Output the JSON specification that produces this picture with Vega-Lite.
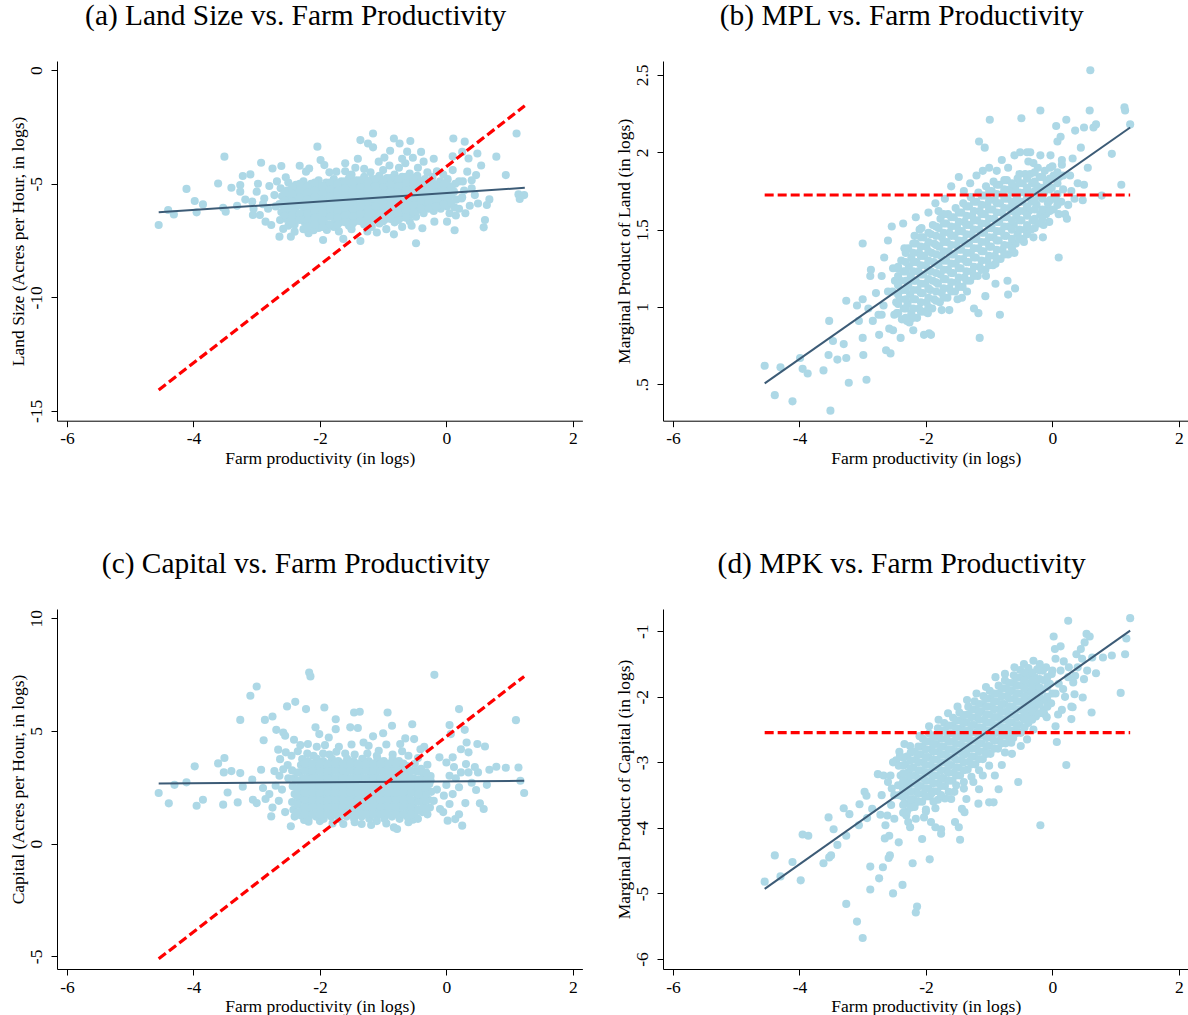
{
"$schema":"https://vega.github.io/schema/vega-lite/v6.json",
"background":"white",
"padding":{"left":9,"top":1,"right":0,"bottom":0},
"config":{
"view":{"stroke":null},
"font":"Liberation Serif",
"axis":{"domainColor":"#000","tickColor":"#000","labelColor":"#000","titleColor":"#000","labelFont":"Liberation Serif","titleFont":"Liberation Serif","labelFontSize":17.5,"titleFontSize":17.5,"titleFontWeight":"normal","grid":false,"tickSize":6,"domainWidth":1,"tickWidth":1},
"axisX":{"labelPadding":3,"titlePadding":2,"labelAngle":0},
"axisY":{"labelAngle":-90,"labelAlign":"center","labelBaseline":"alphabetic","labelPadding":10,"titlePadding":0},
"title":{"font":"Liberation Serif","fontSize":29.4,"fontWeight":"normal","color":"#000","anchor":"middle","frame":"bounds","baseline":"alphabetic","offset":29.5}
},
"datasets":{
"a_pts":[
{"x":-4.55,"y":-6.82},{"x":-4.40,"y":-6.16},{"x":-4.31,"y":-6.35},{"x":-4.11,"y":-5.23},{"x":-3.98,"y":-5.76},{"x":-3.95,"y":-6.26},{"x":-3.85,"y":-5.91},{"x":-3.61,"y":-4.99},{"x":-3.51,"y":-3.81},{"x":-3.53,"y":-6.06},{"x":-3.49,"y":-6.23},{"x":-3.40,"y":-5.18},{"x":-3.31,"y":-5.97},{"x":-3.26,"y":-5.06},{"x":-3.26,"y":-5.35},{"x":-3.22,"y":-4.66},{"x":-3.10,"y":-4.59},{"x":-3.07,"y":-5.79},{"x":-3.06,"y":-6.38},{"x":-3.00,"y":-5.35},{"x":-2.95,"y":-6.38},{"x":-2.93,"y":-4.08},{"x":-2.88,"y":-5.65},{"x":-2.86,"y":-6.67},{"x":-2.77,"y":-6.82},{"x":-2.75,"y":-4.33},{"x":-2.64,"y":-7.33},{"x":-2.61,"y":-4.22},{"x":-2.58,"y":-6.99},{"x":-2.57,"y":-6.30},{"x":-2.54,"y":-4.72},{"x":-2.46,"y":-7.33},{"x":-2.40,"y":-7.11},{"x":-2.32,"y":-4.21},{"x":-2.22,"y":-4.47},{"x":-2.17,"y":-4.33},{"x":-2.18,"y":-7.18},{"x":-2.04,"y":-3.37},{"x":-1.99,"y":-3.96},{"x":-1.93,"y":-4.18},{"x":-1.95,"y":-7.48},{"x":-1.89,"y":-7.04},{"x":-1.74,"y":-4.47},{"x":-1.63,"y":-7.43},{"x":-1.44,"y":-4.30},{"x":-1.36,"y":-3.08},{"x":-1.36,"y":-7.52},{"x":-1.24,"y":-3.23},{"x":-1.16,"y":-2.79},{"x":-1.16,"y":-3.40},{"x":-1.07,"y":-4.03},{"x":-0.89,"y":-3.55},{"x":-0.83,"y":-3.01},{"x":-0.83,"y":-7.23},{"x":-0.74,"y":-3.23},{"x":-0.57,"y":-3.12},{"x":-0.62,"y":-3.59},{"x":-0.48,"y":-7.62},{"x":-0.53,"y":-3.86},{"x":-0.36,"y":-4.03},{"x":-0.38,"y":-6.96},{"x":-0.19,"y":-6.67},{"x":0.01,"y":-6.67},{"x":0.11,"y":-3.01},{"x":0.13,"y":-7.05},{"x":0.29,"y":-3.15},{"x":0.35,"y":-3.89},{"x":0.49,"y":-3.67},{"x":0.47,"y":-4.62},{"x":0.33,"y":-4.47},{"x":0.50,"y":-5.87},{"x":0.37,"y":-5.97},{"x":0.61,"y":-6.60},{"x":0.59,"y":-6.92},{"x":0.64,"y":-5.94},{"x":0.68,"y":-5.69},{"x":0.79,"y":-3.81},{"x":0.94,"y":-4.62},{"x":1.11,"y":-2.79},{"x":1.14,"y":-5.47},{"x":1.16,"y":-5.67},{"x":1.23,"y":-5.50},
{"x":-2.8,"y":-5.1},{"x":-2.72,"y":-5.5},{"x":-2.7,"y":-6.0},{"x":-2.82,"y":-6.1},{"x":-2.68,"y":-4.9},{"x":-2.9,"y":-5.9},{"x":-3.05,"y":-6.1},{"x":-3.18,"y":-5.7},{"x":-2.98,"y":-5.0},
{"x":-1.85,"y":-4.5},{"x":-1.6,"y":-4.45},{"x":-1.5,"y":-4.6},{"x":-1.3,"y":-4.35},{"x":-1.2,"y":-4.5},{"x":-1.0,"y":-4.4},{"x":-0.9,"y":-4.2},{"x":-0.75,"y":-4.3},{"x":-0.65,"y":-4.1},{"x":-0.45,"y":-4.3},{"x":-0.3,"y":-4.5},{"x":-0.15,"y":-4.45},{"x":-0.05,"y":-4.6},
{"x":-2.1,"y":-7.05},{"x":-1.7,"y":-7.1},{"x":-1.5,"y":-7.0},{"x":-1.25,"y":-7.1},{"x":-1.1,"y":-7.15},{"x":-0.95,"y":-7.0},{"x":-0.7,"y":-6.9},{"x":-0.55,"y":-6.85},
{"x":0.1,"y":-4.4},{"x":0.2,"y":-4.9},{"x":0.25,"y":-5.6},{"x":0.2,"y":-6.1},{"x":0.4,"y":-5.2},{"x":0.45,"y":-5.5},{"x":0.15,"y":-6.4},{"x":0.05,"y":-6.3},{"x":0.55,"y":-4.2},{"x":0.4,"y":-4.85},{"x":0.3,"y":-6.3},{"x":0.1,"y":-3.8},{"x":0.25,"y":-3.6},{"x":-0.2,"y":-3.9},{"x":-0.4,"y":-3.6},{"x":-0.7,"y":-3.9},{"x":-0.98,"y":-3.85},{"x":-1.4,"y":-3.9},{"x":-1.6,"y":-4.1},
{"x":-2.62,"y":-5.2},{"x":-2.6,"y":-5.55},{"x":-2.64,"y":-5.9},{"x":-2.61,"y":-6.25},{"x":-2.63,"y":-6.6},
{"x":-2.5,"y":-4.95},{"x":-2.52,"y":-5.3},{"x":-2.48,"y":-5.6},{"x":-2.51,"y":-5.95},{"x":-2.49,"y":-6.25},{"x":-2.53,"y":-6.55},{"x":-2.5,"y":-6.85},
{"x":-2.38,"y":-5.05},{"x":-2.36,"y":-5.35},{"x":-2.4,"y":-5.65},{"x":-2.37,"y":-5.9},{"x":-2.39,"y":-6.2},{"x":-2.36,"y":-6.5},{"x":-2.4,"y":-6.8},
{"x":-2.26,"y":-4.9},{"x":-2.28,"y":-5.2},{"x":-2.24,"y":-5.5},{"x":-2.27,"y":-5.8},{"x":-2.25,"y":-6.1},{"x":-2.28,"y":-6.4},{"x":-2.24,"y":-6.7},{"x":-2.26,"y":-7.0},
{"x":-2.14,"y":-5.0},{"x":-2.12,"y":-5.3},{"x":-2.16,"y":-5.6},{"x":-2.13,"y":-5.9},{"x":-2.15,"y":-6.2},{"x":-2.12,"y":-6.5},{"x":-2.16,"y":-6.8},
{"x":-2.02,"y":-4.85},{"x":-2.04,"y":-5.15},{"x":-2.0,"y":-5.45},{"x":-2.03,"y":-5.75},{"x":-2.01,"y":-6.05},{"x":-2.04,"y":-6.35},{"x":-2.0,"y":-6.65},{"x":-2.02,"y":-6.95},
{"x":-1.9,"y":-4.95},{"x":-1.88,"y":-5.25},{"x":-1.92,"y":-5.55},{"x":-1.89,"y":-5.85},{"x":-1.91,"y":-6.15},{"x":-1.88,"y":-6.45},{"x":-1.92,"y":-6.75},
{"x":-1.78,"y":-4.8},{"x":-1.8,"y":-5.1},{"x":-1.76,"y":-5.4},{"x":-1.79,"y":-5.7},{"x":-1.77,"y":-6.0},{"x":-1.8,"y":-6.3},{"x":-1.76,"y":-6.6},{"x":-1.78,"y":-6.9},
{"x":-1.66,"y":-4.9},{"x":-1.64,"y":-5.2},{"x":-1.68,"y":-5.5},{"x":-1.65,"y":-5.8},{"x":-1.67,"y":-6.1},{"x":-1.64,"y":-6.4},{"x":-1.68,"y":-6.7},
{"x":-1.54,"y":-4.75},{"x":-1.56,"y":-5.05},{"x":-1.52,"y":-5.35},{"x":-1.55,"y":-5.65},{"x":-1.53,"y":-5.95},{"x":-1.56,"y":-6.25},{"x":-1.52,"y":-6.55},{"x":-1.54,"y":-6.85},
{"x":-1.42,"y":-4.85},{"x":-1.4,"y":-5.15},{"x":-1.44,"y":-5.45},{"x":-1.41,"y":-5.75},{"x":-1.43,"y":-6.05},{"x":-1.4,"y":-6.35},{"x":-1.44,"y":-6.65},
{"x":-1.3,"y":-4.7},{"x":-1.32,"y":-5.0},{"x":-1.28,"y":-5.3},{"x":-1.31,"y":-5.6},{"x":-1.29,"y":-5.9},{"x":-1.32,"y":-6.2},{"x":-1.28,"y":-6.5},{"x":-1.3,"y":-6.8},
{"x":-1.18,"y":-4.8},{"x":-1.16,"y":-5.1},{"x":-1.2,"y":-5.4},{"x":-1.17,"y":-5.7},{"x":-1.19,"y":-6.0},{"x":-1.16,"y":-6.3},{"x":-1.2,"y":-6.6},{"x":-1.18,"y":-6.9},
{"x":-1.06,"y":-4.65},{"x":-1.08,"y":-4.95},{"x":-1.04,"y":-5.25},{"x":-1.07,"y":-5.55},{"x":-1.05,"y":-5.85},{"x":-1.08,"y":-6.15},{"x":-1.04,"y":-6.45},{"x":-1.06,"y":-6.75},
{"x":-0.94,"y":-4.75},{"x":-0.92,"y":-5.05},{"x":-0.96,"y":-5.35},{"x":-0.93,"y":-5.65},{"x":-0.95,"y":-5.95},{"x":-0.92,"y":-6.25},{"x":-0.96,"y":-6.55},
{"x":-0.82,"y":-4.6},{"x":-0.84,"y":-4.9},{"x":-0.8,"y":-5.2},{"x":-0.83,"y":-5.5},{"x":-0.81,"y":-5.8},{"x":-0.84,"y":-6.1},{"x":-0.8,"y":-6.4},{"x":-0.82,"y":-6.7},
{"x":-0.7,"y":-4.7},{"x":-0.68,"y":-5.0},{"x":-0.72,"y":-5.3},{"x":-0.69,"y":-5.6},{"x":-0.71,"y":-5.9},{"x":-0.68,"y":-6.2},{"x":-0.72,"y":-6.5},
{"x":-0.58,"y":-4.55},{"x":-0.6,"y":-4.85},{"x":-0.56,"y":-5.15},{"x":-0.59,"y":-5.45},{"x":-0.57,"y":-5.75},{"x":-0.6,"y":-6.05},{"x":-0.56,"y":-6.35},{"x":-0.58,"y":-6.65},
{"x":-0.46,"y":-4.65},{"x":-0.44,"y":-4.95},{"x":-0.48,"y":-5.25},{"x":-0.45,"y":-5.55},{"x":-0.47,"y":-5.85},{"x":-0.44,"y":-6.15},{"x":-0.48,"y":-6.45},
{"x":-0.34,"y":-4.8},{"x":-0.36,"y":-5.1},{"x":-0.32,"y":-5.4},{"x":-0.35,"y":-5.7},{"x":-0.33,"y":-6.0},{"x":-0.36,"y":-6.3},
{"x":-0.22,"y":-4.7},{"x":-0.2,"y":-5.0},{"x":-0.24,"y":-5.3},{"x":-0.21,"y":-5.6},{"x":-0.23,"y":-5.9},{"x":-0.2,"y":-6.2},
{"x":-0.1,"y":-4.9},{"x":-0.12,"y":-5.2},{"x":-0.08,"y":-5.5},{"x":-0.11,"y":-5.8},{"x":-0.09,"y":-6.1},
{"x":0.02,"y":-4.8},{"x":0.04,"y":-5.1},{"x":0.0,"y":-5.4},{"x":0.03,"y":-5.7},{"x":0.01,"y":-6.0},
{"x":0.14,"y":-5.0},{"x":0.12,"y":-5.35},{"x":0.16,"y":-5.7},{"x":0.13,"y":-6.05},
{"x":0.26,"y":-4.9},{"x":0.28,"y":-5.3},{"x":0.24,"y":-5.65},
{"x":-2.56,"y":-5.4},{"x":-2.56,"y":-5.75},{"x":-2.56,"y":-6.1},{"x":-2.56,"y":-6.4},
{"x":-2.44,"y":-5.15},{"x":-2.44,"y":-5.45},{"x":-2.44,"y":-5.8},{"x":-2.44,"y":-6.1},{"x":-2.44,"y":-6.4},{"x":-2.44,"y":-6.7},
{"x":-2.32,"y":-5.0},{"x":-2.32,"y":-5.3},{"x":-2.32,"y":-5.6},{"x":-2.32,"y":-5.95},{"x":-2.32,"y":-6.3},{"x":-2.32,"y":-6.6},
{"x":-2.2,"y":-5.1},{"x":-2.2,"y":-5.4},{"x":-2.2,"y":-5.7},{"x":-2.2,"y":-6.0},{"x":-2.2,"y":-6.3},{"x":-2.2,"y":-6.6},{"x":-2.2,"y":-6.9},
{"x":-2.08,"y":-4.95},{"x":-2.08,"y":-5.3},{"x":-2.08,"y":-5.6},{"x":-2.08,"y":-5.9},{"x":-2.08,"y":-6.2},{"x":-2.08,"y":-6.5},{"x":-2.08,"y":-6.8},
{"x":-1.96,"y":-5.1},{"x":-1.96,"y":-5.4},{"x":-1.96,"y":-5.7},{"x":-1.96,"y":-6.0},{"x":-1.96,"y":-6.3},{"x":-1.96,"y":-6.6},{"x":-1.96,"y":-6.9},
{"x":-1.84,"y":-4.95},{"x":-1.84,"y":-5.25},{"x":-1.84,"y":-5.55},{"x":-1.84,"y":-5.85},{"x":-1.84,"y":-6.15},{"x":-1.84,"y":-6.45},{"x":-1.84,"y":-6.8},
{"x":-1.72,"y":-5.0},{"x":-1.72,"y":-5.3},{"x":-1.72,"y":-5.6},{"x":-1.72,"y":-5.9},{"x":-1.72,"y":-6.2},{"x":-1.72,"y":-6.5},{"x":-1.72,"y":-6.8},
{"x":-1.6,"y":-4.9},{"x":-1.6,"y":-5.2},{"x":-1.6,"y":-5.5},{"x":-1.6,"y":-5.8},{"x":-1.6,"y":-6.1},{"x":-1.6,"y":-6.4},{"x":-1.6,"y":-6.7},
{"x":-1.48,"y":-4.95},{"x":-1.48,"y":-5.25},{"x":-1.48,"y":-5.55},{"x":-1.48,"y":-5.85},{"x":-1.48,"y":-6.15},{"x":-1.48,"y":-6.45},{"x":-1.48,"y":-6.75},
{"x":-1.36,"y":-4.85},{"x":-1.36,"y":-5.15},{"x":-1.36,"y":-5.45},{"x":-1.36,"y":-5.75},{"x":-1.36,"y":-6.05},{"x":-1.36,"y":-6.35},{"x":-1.36,"y":-6.65},
{"x":-1.24,"y":-4.9},{"x":-1.24,"y":-5.2},{"x":-1.24,"y":-5.5},{"x":-1.24,"y":-5.8},{"x":-1.24,"y":-6.1},{"x":-1.24,"y":-6.4},{"x":-1.24,"y":-6.7},
{"x":-1.12,"y":-4.8},{"x":-1.12,"y":-5.1},{"x":-1.12,"y":-5.4},{"x":-1.12,"y":-5.7},{"x":-1.12,"y":-6.0},{"x":-1.12,"y":-6.3},{"x":-1.12,"y":-6.6},
{"x":-1.0,"y":-4.85},{"x":-1.0,"y":-5.15},{"x":-1.0,"y":-5.45},{"x":-1.0,"y":-5.75},{"x":-1.0,"y":-6.05},{"x":-1.0,"y":-6.35},{"x":-1.0,"y":-6.65},
{"x":-0.88,"y":-4.75},{"x":-0.88,"y":-5.05},{"x":-0.88,"y":-5.35},{"x":-0.88,"y":-5.65},{"x":-0.88,"y":-5.95},{"x":-0.88,"y":-6.25},{"x":-0.88,"y":-6.55},
{"x":-0.76,"y":-4.8},{"x":-0.76,"y":-5.1},{"x":-0.76,"y":-5.4},{"x":-0.76,"y":-5.7},{"x":-0.76,"y":-6.0},{"x":-0.76,"y":-6.3},{"x":-0.76,"y":-6.6},
{"x":-0.64,"y":-4.7},{"x":-0.64,"y":-5.0},{"x":-0.64,"y":-5.3},{"x":-0.64,"y":-5.6},{"x":-0.64,"y":-5.9},{"x":-0.64,"y":-6.2},{"x":-0.64,"y":-6.5},
{"x":-0.52,"y":-4.75},{"x":-0.52,"y":-5.05},{"x":-0.52,"y":-5.35},{"x":-0.52,"y":-5.65},{"x":-0.52,"y":-5.95},{"x":-0.52,"y":-6.25},
{"x":-0.4,"y":-4.9},{"x":-0.4,"y":-5.2},{"x":-0.4,"y":-5.5},{"x":-0.4,"y":-5.8},{"x":-0.4,"y":-6.1},
{"x":-0.28,"y":-4.95},{"x":-0.28,"y":-5.25},{"x":-0.28,"y":-5.55},{"x":-0.28,"y":-5.85},{"x":-0.28,"y":-6.1},
{"x":-0.16,"y":-5.1},{"x":-0.16,"y":-5.4},{"x":-0.16,"y":-5.7},{"x":-0.16,"y":-6.0},
{"x":-0.04,"y":-5.0},{"x":-0.04,"y":-5.3},{"x":-0.04,"y":-5.6},{"x":-0.04,"y":-5.9},
{"x":0.08,"y":-5.2},{"x":0.08,"y":-5.5},{"x":0.08,"y":-5.85}
],
"b_pts":[
{"x":-4.55,"y":0.62},{"x":-4.39,"y":0.43},{"x":-4.30,"y":0.61},{"x":-4.11,"y":0.39},{"x":-3.99,"y":0.67},{"x":-3.95,"y":0.60},{"x":-3.87,"y":0.57},{"x":-3.62,"y":0.59},{"x":-3.54,"y":0.69},{"x":-3.53,"y":0.91},{"x":-3.51,"y":0.33},{"x":-3.47,"y":0.78},{"x":-3.40,"y":0.66},{"x":-3.30,"y":0.76},{"x":-3.26,"y":0.67},{"x":-3.26,"y":1.04},{"x":-3.22,"y":0.51},{"x":-3.09,"y":1.01},{"x":-3.06,"y":0.91},{"x":-3.00,"y":1.41},{"x":-3.00,"y":1.05},{"x":-3.00,"y":0.80},{"x":-2.99,"y":0.69},{"x":-2.94,"y":0.53},{"x":-2.91,"y":0.99},{"x":-2.87,"y":1.24},{"x":-2.88,"y":1.20},{"x":-2.84,"y":0.91},{"x":-2.79,"y":1.09},{"x":-2.75,"y":0.95},{"x":-2.74,"y":0.82},{"x":-2.70,"y":1.20},{"x":-2.67,"y":1.01},{"x":-2.66,"y":1.32},{"x":-2.63,"y":0.72},{"x":-2.60,"y":1.43},{"x":-2.56,"y":0.70},{"x":-2.54,"y":1.52},{"x":-2.58,"y":0.86},{"x":-2.52,"y":0.85},{"x":-2.46,"y":0.96},{"x":-2.36,"y":1.54},{"x":-2.34,"y":1.38},{"x":-2.30,"y":0.91},{"x":-2.24,"y":0.93},{"x":-2.16,"y":1.58},{"x":-2.18,"y":1.46},{"x":-2.07,"y":1.51},{"x":-2.03,"y":0.82},{"x":-1.95,"y":0.83},{"x":-1.92,"y":0.82},{"x":-1.97,"y":0.96},{"x":-1.96,"y":1.61},{"x":-1.85,"y":1.67},{"x":-1.63,"y":0.98},{"x":-1.60,"y":1.78},{"x":-1.48,"y":1.84},{"x":-1.43,"y":1.06},{"x":-1.16,"y":2.07},{"x":-1.15,"y":0.80},{"x":-1.17,"y":0.96},{"x":-1.24,"y":0.99},{"x":-1.10,"y":1.88},{"x":-1.06,"y":1.07},{"x":-1.07,"y":2.03},{"x":-0.99,"y":2.21},{"x":-0.88,"y":1.88},{"x":-0.83,"y":0.95},{"x":-0.90,"y":1.15},{"x":-0.71,"y":1.17},{"x":-0.70,"y":1.08},{"x":-0.59,"y":1.12},{"x":-0.49,"y":2.22},{"x":-0.51,"y":2.00},{"x":-0.35,"y":2.00},{"x":-0.38,"y":1.94},{"x":-0.31,"y":1.56},{"x":-0.19,"y":2.27},{"x":-0.19,"y":1.98},{"x":-0.14,"y":1.53},{"x":-0.03,"y":1.98},{"x":0.06,"y":2.17},{"x":0.13,"y":2.10},{"x":0.08,"y":2.07},{"x":0.10,"y":1.32},{"x":0.22,"y":2.21},{"x":0.20,"y":1.60},{"x":0.23,"y":1.57},{"x":0.36,"y":2.14},{"x":0.32,"y":1.96},{"x":0.45,"y":2.03},{"x":0.50,"y":2.16},{"x":0.60,"y":2.53},{"x":0.59,"y":2.27},{"x":0.56,"y":1.90},{"x":0.65,"y":2.16},{"x":0.69,"y":2.18},{"x":0.50,"y":1.79},{"x":0.48,"y":1.69},{"x":0.94,"y":1.99},{"x":0.78,"y":1.72},{"x":1.09,"y":1.79},{"x":1.14,"y":2.29},{"x":1.15,"y":2.27},{"x":1.23,"y":2.18},{"x":0.35,"y":1.70},{"x":0.17,"y":1.85},{"x":0.02,"y":1.85},{"x":-0.04,"y":1.69},{"x":-0.07,"y":1.64},
{"x":-2.45,"y":1.25},{"x":-2.6,"y":1.1},{"x":-2.7,"y":0.95},{"x":-2.4,"y":0.8},{"x":-2.2,"y":0.85},{"x":-2.1,"y":1.5},{"x":-1.8,"y":1.62},{"x":-1.7,"y":1.7},{"x":-1.4,"y":1.75},{"x":-1.3,"y":1.8},{"x":-1.2,"y":1.85},{"x":-1.0,"y":1.9},{"x":-0.8,"y":1.95},{"x":-0.7,"y":1.9},{"x":-0.6,"y":1.98},{"x":-0.4,"y":2.0},{"x":-0.3,"y":1.93},{"x":-1.75,"y":0.98},{"x":-1.5,"y":1.05},{"x":-1.35,"y":1.1},{"x":-1.05,"y":1.2},{"x":-0.9,"y":1.28},{"x":-0.6,"y":1.35},{"x":-0.45,"y":1.42},{"x":-0.3,"y":1.45},{"x":0.1,"y":1.6},{"x":0.25,"y":1.66},{"x":0.3,"y":1.75},{"x":0.15,"y":1.95},{"x":0.28,"y":1.85},{"x":0.4,"y":1.8},{"x":-0.15,"y":1.45},{"x":-0.05,"y":1.55},{"x":0.05,"y":1.7},
{"x":-2.5,"y":0.95},{"x":-2.47,"y":1.03},{"x":-2.53,"y":1.1},{"x":-2.49,"y":1.17},{"x":-2.52,"y":1.25},
{"x":-2.38,"y":0.92},{"x":-2.35,"y":0.99},{"x":-2.41,"y":1.05},{"x":-2.37,"y":1.11},{"x":-2.4,"y":1.17},{"x":-2.36,"y":1.23},{"x":-2.39,"y":1.3},
{"x":-2.26,"y":0.9},{"x":-2.23,"y":0.96},{"x":-2.29,"y":1.02},{"x":-2.25,"y":1.08},{"x":-2.28,"y":1.14},{"x":-2.24,"y":1.2},{"x":-2.27,"y":1.26},{"x":-2.23,"y":1.32},{"x":-2.28,"y":1.38},
{"x":-2.14,"y":0.93},{"x":-2.11,"y":0.99},{"x":-2.17,"y":1.05},{"x":-2.13,"y":1.11},{"x":-2.16,"y":1.17},{"x":-2.12,"y":1.23},{"x":-2.15,"y":1.29},{"x":-2.11,"y":1.35},{"x":-2.16,"y":1.41},
{"x":-2.02,"y":0.97},{"x":-1.99,"y":1.03},{"x":-2.05,"y":1.09},{"x":-2.01,"y":1.15},{"x":-2.04,"y":1.21},{"x":-2.0,"y":1.27},{"x":-2.03,"y":1.33},{"x":-1.99,"y":1.39},{"x":-2.04,"y":1.45},
{"x":-1.9,"y":0.99},{"x":-1.87,"y":1.05},{"x":-1.93,"y":1.11},{"x":-1.89,"y":1.17},{"x":-1.92,"y":1.23},{"x":-1.88,"y":1.29},{"x":-1.91,"y":1.35},{"x":-1.87,"y":1.41},{"x":-1.92,"y":1.47},{"x":-1.89,"y":1.53},
{"x":-1.78,"y":1.03},{"x":-1.75,"y":1.09},{"x":-1.81,"y":1.15},{"x":-1.77,"y":1.21},{"x":-1.8,"y":1.27},{"x":-1.76,"y":1.33},{"x":-1.79,"y":1.39},{"x":-1.75,"y":1.45},{"x":-1.8,"y":1.51},{"x":-1.77,"y":1.57},
{"x":-1.66,"y":1.06},{"x":-1.63,"y":1.12},{"x":-1.69,"y":1.18},{"x":-1.65,"y":1.24},{"x":-1.68,"y":1.3},{"x":-1.64,"y":1.36},{"x":-1.67,"y":1.42},{"x":-1.63,"y":1.48},{"x":-1.68,"y":1.54},{"x":-1.65,"y":1.6},
{"x":-1.54,"y":1.1},{"x":-1.51,"y":1.16},{"x":-1.57,"y":1.22},{"x":-1.53,"y":1.28},{"x":-1.56,"y":1.34},{"x":-1.52,"y":1.4},{"x":-1.55,"y":1.46},{"x":-1.51,"y":1.52},{"x":-1.56,"y":1.58},{"x":-1.53,"y":1.64},
{"x":-1.42,"y":1.13},{"x":-1.39,"y":1.19},{"x":-1.45,"y":1.25},{"x":-1.41,"y":1.31},{"x":-1.44,"y":1.37},{"x":-1.4,"y":1.43},{"x":-1.43,"y":1.49},{"x":-1.39,"y":1.55},{"x":-1.44,"y":1.61},{"x":-1.41,"y":1.67},
{"x":-1.3,"y":1.17},{"x":-1.27,"y":1.23},{"x":-1.33,"y":1.29},{"x":-1.29,"y":1.35},{"x":-1.32,"y":1.41},{"x":-1.28,"y":1.47},{"x":-1.31,"y":1.53},{"x":-1.27,"y":1.59},{"x":-1.32,"y":1.65},{"x":-1.29,"y":1.71},
{"x":-1.18,"y":1.2},{"x":-1.15,"y":1.26},{"x":-1.21,"y":1.32},{"x":-1.17,"y":1.38},{"x":-1.2,"y":1.44},{"x":-1.16,"y":1.5},{"x":-1.19,"y":1.56},{"x":-1.15,"y":1.62},{"x":-1.2,"y":1.68},{"x":-1.17,"y":1.74},
{"x":-1.06,"y":1.24},{"x":-1.03,"y":1.3},{"x":-1.09,"y":1.36},{"x":-1.05,"y":1.42},{"x":-1.08,"y":1.48},{"x":-1.04,"y":1.54},{"x":-1.07,"y":1.6},{"x":-1.03,"y":1.66},{"x":-1.08,"y":1.72},{"x":-1.05,"y":1.78},
{"x":-0.94,"y":1.27},{"x":-0.91,"y":1.33},{"x":-0.97,"y":1.39},{"x":-0.93,"y":1.45},{"x":-0.96,"y":1.51},{"x":-0.92,"y":1.57},{"x":-0.95,"y":1.63},{"x":-0.91,"y":1.69},{"x":-0.96,"y":1.75},{"x":-0.93,"y":1.81},
{"x":-0.82,"y":1.31},{"x":-0.79,"y":1.37},{"x":-0.85,"y":1.43},{"x":-0.81,"y":1.49},{"x":-0.84,"y":1.55},{"x":-0.8,"y":1.61},{"x":-0.83,"y":1.67},{"x":-0.79,"y":1.73},{"x":-0.84,"y":1.79},
{"x":-0.7,"y":1.34},{"x":-0.67,"y":1.4},{"x":-0.73,"y":1.46},{"x":-0.69,"y":1.52},{"x":-0.72,"y":1.58},{"x":-0.68,"y":1.64},{"x":-0.71,"y":1.7},{"x":-0.67,"y":1.76},{"x":-0.72,"y":1.82},
{"x":-0.58,"y":1.41},{"x":-0.55,"y":1.47},{"x":-0.61,"y":1.53},{"x":-0.57,"y":1.59},{"x":-0.6,"y":1.65},{"x":-0.56,"y":1.71},{"x":-0.59,"y":1.77},{"x":-0.55,"y":1.83},
{"x":-0.46,"y":1.44},{"x":-0.43,"y":1.5},{"x":-0.49,"y":1.56},{"x":-0.45,"y":1.62},{"x":-0.48,"y":1.68},{"x":-0.44,"y":1.74},{"x":-0.47,"y":1.8},{"x":-0.43,"y":1.86},
{"x":-0.34,"y":1.5},{"x":-0.31,"y":1.56},{"x":-0.37,"y":1.62},{"x":-0.33,"y":1.68},{"x":-0.36,"y":1.74},{"x":-0.32,"y":1.8},{"x":-0.35,"y":1.86},
{"x":-0.22,"y":1.54},{"x":-0.19,"y":1.6},{"x":-0.25,"y":1.66},{"x":-0.21,"y":1.72},{"x":-0.24,"y":1.78},{"x":-0.2,"y":1.84},{"x":-0.23,"y":1.9},
{"x":-0.1,"y":1.6},{"x":-0.07,"y":1.67},{"x":-0.13,"y":1.74},{"x":-0.09,"y":1.81},{"x":-0.12,"y":1.88},
{"x":0.02,"y":1.63},{"x":0.05,"y":1.7},{"x":-0.01,"y":1.77},{"x":0.03,"y":1.84},{"x":0.0,"y":1.91},
{"x":0.14,"y":1.68},{"x":0.17,"y":1.76},{"x":0.11,"y":1.84},{"x":0.15,"y":1.92},
{"x":-2.44,"y":0.96},{"x":-2.44,"y":1.02},{"x":-2.44,"y":1.08},{"x":-2.44,"y":1.14},{"x":-2.44,"y":1.2},{"x":-2.44,"y":1.26},
{"x":-2.32,"y":0.93},{"x":-2.32,"y":0.99},{"x":-2.32,"y":1.05},{"x":-2.32,"y":1.11},{"x":-2.32,"y":1.17},{"x":-2.32,"y":1.23},{"x":-2.32,"y":1.29},{"x":-2.32,"y":1.35},
{"x":-2.2,"y":0.93},{"x":-2.2,"y":0.99},{"x":-2.2,"y":1.05},{"x":-2.2,"y":1.11},{"x":-2.2,"y":1.17},{"x":-2.2,"y":1.23},{"x":-2.2,"y":1.29},{"x":-2.2,"y":1.35},{"x":-2.2,"y":1.41},
{"x":-2.08,"y":0.97},{"x":-2.08,"y":1.03},{"x":-2.08,"y":1.09},{"x":-2.08,"y":1.15},{"x":-2.08,"y":1.21},{"x":-2.08,"y":1.27},{"x":-2.08,"y":1.33},{"x":-2.08,"y":1.39},{"x":-2.08,"y":1.45},
{"x":-1.96,"y":1.0},{"x":-1.96,"y":1.06},{"x":-1.96,"y":1.12},{"x":-1.96,"y":1.18},{"x":-1.96,"y":1.24},{"x":-1.96,"y":1.3},{"x":-1.96,"y":1.36},{"x":-1.96,"y":1.42},{"x":-1.96,"y":1.48},
{"x":-1.84,"y":1.04},{"x":-1.84,"y":1.1},{"x":-1.84,"y":1.16},{"x":-1.84,"y":1.22},{"x":-1.84,"y":1.28},{"x":-1.84,"y":1.34},{"x":-1.84,"y":1.4},{"x":-1.84,"y":1.46},{"x":-1.84,"y":1.52},
{"x":-1.72,"y":1.06},{"x":-1.72,"y":1.12},{"x":-1.72,"y":1.18},{"x":-1.72,"y":1.24},{"x":-1.72,"y":1.3},{"x":-1.72,"y":1.36},{"x":-1.72,"y":1.42},{"x":-1.72,"y":1.48},{"x":-1.72,"y":1.54},{"x":-1.72,"y":1.6},
{"x":-1.6,"y":1.1},{"x":-1.6,"y":1.16},{"x":-1.6,"y":1.22},{"x":-1.6,"y":1.28},{"x":-1.6,"y":1.34},{"x":-1.6,"y":1.4},{"x":-1.6,"y":1.46},{"x":-1.6,"y":1.52},{"x":-1.6,"y":1.58},
{"x":-1.48,"y":1.13},{"x":-1.48,"y":1.19},{"x":-1.48,"y":1.25},{"x":-1.48,"y":1.31},{"x":-1.48,"y":1.37},{"x":-1.48,"y":1.43},{"x":-1.48,"y":1.49},{"x":-1.48,"y":1.55},{"x":-1.48,"y":1.61},
{"x":-1.36,"y":1.17},{"x":-1.36,"y":1.23},{"x":-1.36,"y":1.29},{"x":-1.36,"y":1.35},{"x":-1.36,"y":1.41},{"x":-1.36,"y":1.47},{"x":-1.36,"y":1.53},{"x":-1.36,"y":1.59},{"x":-1.36,"y":1.65},
{"x":-1.24,"y":1.2},{"x":-1.24,"y":1.26},{"x":-1.24,"y":1.32},{"x":-1.24,"y":1.38},{"x":-1.24,"y":1.44},{"x":-1.24,"y":1.5},{"x":-1.24,"y":1.56},{"x":-1.24,"y":1.62},{"x":-1.24,"y":1.68},
{"x":-1.12,"y":1.24},{"x":-1.12,"y":1.3},{"x":-1.12,"y":1.36},{"x":-1.12,"y":1.42},{"x":-1.12,"y":1.48},{"x":-1.12,"y":1.54},{"x":-1.12,"y":1.6},{"x":-1.12,"y":1.66},{"x":-1.12,"y":1.72},
{"x":-1.0,"y":1.27},{"x":-1.0,"y":1.33},{"x":-1.0,"y":1.39},{"x":-1.0,"y":1.45},{"x":-1.0,"y":1.51},{"x":-1.0,"y":1.57},{"x":-1.0,"y":1.63},{"x":-1.0,"y":1.69},{"x":-1.0,"y":1.75},
{"x":-0.88,"y":1.31},{"x":-0.88,"y":1.37},{"x":-0.88,"y":1.43},{"x":-0.88,"y":1.49},{"x":-0.88,"y":1.55},{"x":-0.88,"y":1.61},{"x":-0.88,"y":1.67},{"x":-0.88,"y":1.73},{"x":-0.88,"y":1.79},
{"x":-0.76,"y":1.34},{"x":-0.76,"y":1.4},{"x":-0.76,"y":1.46},{"x":-0.76,"y":1.52},{"x":-0.76,"y":1.58},{"x":-0.76,"y":1.64},{"x":-0.76,"y":1.7},{"x":-0.76,"y":1.76},{"x":-0.76,"y":1.82},
{"x":-0.64,"y":1.38},{"x":-0.64,"y":1.44},{"x":-0.64,"y":1.5},{"x":-0.64,"y":1.56},{"x":-0.64,"y":1.62},{"x":-0.64,"y":1.68},{"x":-0.64,"y":1.74},{"x":-0.64,"y":1.8},
{"x":-0.52,"y":1.44},{"x":-0.52,"y":1.5},{"x":-0.52,"y":1.56},{"x":-0.52,"y":1.62},{"x":-0.52,"y":1.68},{"x":-0.52,"y":1.74},{"x":-0.52,"y":1.8},{"x":-0.52,"y":1.86},
{"x":-0.4,"y":1.47},{"x":-0.4,"y":1.53},{"x":-0.4,"y":1.59},{"x":-0.4,"y":1.65},{"x":-0.4,"y":1.71},{"x":-0.4,"y":1.77},{"x":-0.4,"y":1.83},
{"x":-0.28,"y":1.51},{"x":-0.28,"y":1.57},{"x":-0.28,"y":1.63},{"x":-0.28,"y":1.69},{"x":-0.28,"y":1.75},{"x":-0.28,"y":1.81},{"x":-0.28,"y":1.87},
{"x":-0.16,"y":1.57},{"x":-0.16,"y":1.63},{"x":-0.16,"y":1.7},{"x":-0.16,"y":1.77},{"x":-0.16,"y":1.84},
{"x":-0.04,"y":1.62},{"x":-0.04,"y":1.69},{"x":-0.04,"y":1.76},{"x":-0.04,"y":1.83},{"x":-0.04,"y":1.9},
{"x":0.08,"y":1.66},{"x":0.08,"y":1.73},{"x":0.08,"y":1.8},{"x":0.08,"y":1.87}
],
"c_pts":[
{"x":-4.55,"y":2.25},{"x":-4.39,"y":1.79},{"x":-4.30,"y":2.61},{"x":-4.11,"y":2.72},{"x":-3.98,"y":3.43},{"x":-3.95,"y":1.68},{"x":-3.85,"y":1.95},{"x":-3.61,"y":3.56},{"x":-3.53,"y":1.73},{"x":-3.52,"y":3.16},{"x":-3.51,"y":3.80},{"x":-3.46,"y":2.27},{"x":-3.40,"y":3.22},{"x":-3.30,"y":1.83},{"x":-3.26,"y":3.13},{"x":-3.26,"y":5.49},{"x":-3.22,"y":2.53},{"x":-3.10,"y":6.56},{"x":-3.07,"y":2.84},{"x":-3.06,"y":1.95},{"x":-3.00,"y":6.97},{"x":-3.00,"y":1.80},{"x":-2.93,"y":3.28},{"x":-2.90,"y":2.47},{"x":-2.89,"y":4.59},{"x":-2.87,"y":5.49},{"x":-2.86,"y":1.98},{"x":-2.77,"y":1.21},{"x":-2.75,"y":5.64},{"x":-2.72,"y":3.22},{"x":-2.70,"y":2.57},{"x":-2.69,"y":5.05},{"x":-2.66,"y":4.17},{"x":-2.64,"y":3.01},{"x":-2.63,"y":3.75},{"x":-2.58,"y":4.93},{"x":-2.55,"y":4.79},{"x":-2.54,"y":4.05},{"x":-2.52,"y":6.09},{"x":-2.51,"y":3.49},{"x":-2.46,"y":0.77},{"x":-2.41,"y":4.61},{"x":-2.39,"y":6.29},{"x":-2.31,"y":4.37},{"x":-2.28,"y":3.75},{"x":-2.22,"y":5.97},{"x":-2.19,"y":4.42},{"x":-2.17,"y":7.59},{"x":-2.15,"y":7.42},{"x":-2.18,"y":0.97},{"x":-2.07,"y":5.16},{"x":-2.01,"y":4.86},{"x":-1.93,"y":6.04},{"x":-1.92,"y":4.37},{"x":-1.86,"y":4.71},{"x":-1.75,"y":5.52},{"x":-1.75,"y":5.08},{"x":-1.74,"y":4.08},{"x":-1.63,"y":0.87},{"x":-1.52,"y":5.16},{"x":-1.46,"y":5.82},{"x":-1.37,"y":5.85},{"x":-1.40,"y":5.13},{"x":-1.34,"y":0.87},{"x":-1.31,"y":4.49},{"x":-1.23,"y":4.34},{"x":-1.19,"y":0.83},{"x":-1.16,"y":4.76},{"x":-1.07,"y":4.12},{"x":-1.00,"y":4.90},{"x":-0.93,"y":5.82},{"x":-0.86,"y":5.23},{"x":-0.83,"y":0.72},{"x":-0.78,"y":0.65},{"x":-0.73,"y":4.42},{"x":-0.65,"y":4.67},{"x":-0.54,"y":5.30},{"x":-0.53,"y":1.06},{"x":-0.51,"y":4.64},{"x":-0.41,"y":4.19},{"x":-0.19,"y":7.49},{"x":-0.11,"y":3.83},{"x":0.02,"y":1.02},{"x":0.05,"y":5.26},{"x":0.07,"y":4.86},{"x":0.05,"y":1.76},{"x":0.10,"y":3.83},{"x":0.14,"y":1.09},{"x":0.20,"y":5.97},{"x":0.23,"y":4.19},{"x":0.25,"y":0.80},{"x":0.29,"y":5.05},{"x":0.31,"y":3.53},{"x":0.32,"y":4.49},{"x":0.35,"y":4.05},{"x":0.35,"y":3.16},{"x":0.47,"y":2.38},{"x":0.49,"y":4.42},{"x":0.50,"y":3.16},{"x":0.53,"y":1.79},{"x":0.59,"y":1.54},{"x":0.61,"y":4.31},{"x":0.64,"y":2.61},{"x":0.68,"y":3.28},{"x":0.79,"y":3.41},{"x":0.94,"y":3.37},{"x":1.10,"y":5.48},{"x":1.14,"y":3.38},{"x":1.17,"y":2.79},{"x":1.23,"y":2.25},{"x":0.23,"y":3.16},{"x":0.05,"y":3.01},{"x":-0.04,"y":2.13},{"x":-0.10,"y":1.54},
{"x":-2.8,"y":2.2},{"x":-2.75,"y":1.6},{"x":-2.65,"y":1.9},{"x":-2.6,"y":2.4},{"x":-2.55,"y":1.4},{"x":-2.58,"y":3.3},{"x":-2.5,"y":2.9},{"x":-2.45,"y":3.9},{"x":-2.4,"y":1.2},{"x":-2.35,"y":4.1},{"x":-2.2,"y":4.0},{"x":-2.1,"y":3.9},{"x":-2.05,"y":4.3},{"x":-1.95,"y":4.0},{"x":-1.85,"y":3.95},{"x":-1.7,"y":4.3},{"x":-1.6,"y":4.0},{"x":-1.5,"y":4.4},{"x":-1.45,"y":3.95},{"x":-1.25,"y":4.0},{"x":-1.1,"y":3.9},{"x":-0.95,"y":4.4},{"x":-0.85,"y":3.95},{"x":-0.7,"y":4.1},{"x":-0.6,"y":3.9},{"x":-0.45,"y":3.8},{"x":-0.35,"y":4.3},{"x":-0.3,"y":3.5},{"x":-0.25,"y":2.8},{"x":-0.2,"y":1.9},{"x":-0.15,"y":2.4},{"x":-0.3,"y":1.3},{"x":-0.45,"y":1.1},{"x":-0.6,"y":0.95},{"x":-0.95,"y":0.9},{"x":-1.1,"y":1.0},{"x":-1.45,"y":0.95},{"x":-1.8,"y":0.9},{"x":-2.0,"y":1.0},{"x":-2.25,"y":1.05},{"x":0.0,"y":2.6},{"x":0.1,"y":2.2},{"x":0.15,"y":2.9},{"x":0.2,"y":2.5},{"x":0.3,"y":1.8},{"x":0.4,"y":2.7},{"x":0.45,"y":3.4},{"x":0.12,"y":3.4},{"x":0.0,"y":3.6},{"x":-0.05,"y":1.4},{"x":0.2,"y":1.3},
{"x":-2.42,"y":1.5},{"x":-2.44,"y":1.85},{"x":-2.4,"y":2.2},{"x":-2.43,"y":2.55},{"x":-2.41,"y":2.9},{"x":-2.44,"y":3.25},
{"x":-2.3,"y":1.25},{"x":-2.28,"y":1.57},{"x":-2.32,"y":1.89},{"x":-2.29,"y":2.21},{"x":-2.31,"y":2.53},{"x":-2.28,"y":2.85},{"x":-2.32,"y":3.17},{"x":-2.3,"y":3.49},
{"x":-2.18,"y":1.1},{"x":-2.2,"y":1.42},{"x":-2.16,"y":1.74},{"x":-2.19,"y":2.06},{"x":-2.17,"y":2.38},{"x":-2.2,"y":2.7},{"x":-2.16,"y":3.02},{"x":-2.18,"y":3.34},{"x":-2.19,"y":3.66},
{"x":-2.06,"y":1.2},{"x":-2.04,"y":1.52},{"x":-2.08,"y":1.84},{"x":-2.05,"y":2.16},{"x":-2.07,"y":2.48},{"x":-2.04,"y":2.8},{"x":-2.08,"y":3.12},{"x":-2.06,"y":3.44},{"x":-2.05,"y":3.76},
{"x":-1.94,"y":1.1},{"x":-1.96,"y":1.42},{"x":-1.92,"y":1.74},{"x":-1.95,"y":2.06},{"x":-1.93,"y":2.38},{"x":-1.96,"y":2.7},{"x":-1.92,"y":3.02},{"x":-1.94,"y":3.34},{"x":-1.95,"y":3.66},
{"x":-1.82,"y":1.2},{"x":-1.8,"y":1.52},{"x":-1.84,"y":1.84},{"x":-1.81,"y":2.16},{"x":-1.83,"y":2.48},{"x":-1.8,"y":2.8},{"x":-1.84,"y":3.12},{"x":-1.82,"y":3.44},{"x":-1.81,"y":3.76},
{"x":-1.7,"y":1.1},{"x":-1.72,"y":1.42},{"x":-1.68,"y":1.74},{"x":-1.71,"y":2.06},{"x":-1.69,"y":2.38},{"x":-1.72,"y":2.7},{"x":-1.68,"y":3.02},{"x":-1.7,"y":3.34},{"x":-1.71,"y":3.66},
{"x":-1.58,"y":1.2},{"x":-1.56,"y":1.52},{"x":-1.6,"y":1.84},{"x":-1.57,"y":2.16},{"x":-1.59,"y":2.48},{"x":-1.56,"y":2.8},{"x":-1.6,"y":3.12},{"x":-1.58,"y":3.44},{"x":-1.57,"y":3.76},
{"x":-1.46,"y":1.1},{"x":-1.48,"y":1.42},{"x":-1.44,"y":1.74},{"x":-1.47,"y":2.06},{"x":-1.45,"y":2.38},{"x":-1.48,"y":2.7},{"x":-1.44,"y":3.02},{"x":-1.46,"y":3.34},{"x":-1.47,"y":3.66},
{"x":-1.34,"y":1.2},{"x":-1.32,"y":1.52},{"x":-1.36,"y":1.84},{"x":-1.33,"y":2.16},{"x":-1.35,"y":2.48},{"x":-1.32,"y":2.8},{"x":-1.36,"y":3.12},{"x":-1.34,"y":3.44},{"x":-1.33,"y":3.76},
{"x":-1.22,"y":1.1},{"x":-1.24,"y":1.42},{"x":-1.2,"y":1.74},{"x":-1.23,"y":2.06},{"x":-1.21,"y":2.38},{"x":-1.24,"y":2.7},{"x":-1.2,"y":3.02},{"x":-1.22,"y":3.34},{"x":-1.23,"y":3.66},
{"x":-1.1,"y":1.2},{"x":-1.08,"y":1.52},{"x":-1.12,"y":1.84},{"x":-1.09,"y":2.16},{"x":-1.11,"y":2.48},{"x":-1.08,"y":2.8},{"x":-1.12,"y":3.12},{"x":-1.1,"y":3.44},{"x":-1.09,"y":3.76},
{"x":-0.98,"y":1.1},{"x":-1.0,"y":1.42},{"x":-0.96,"y":1.74},{"x":-0.99,"y":2.06},{"x":-0.97,"y":2.38},{"x":-1.0,"y":2.7},{"x":-0.96,"y":3.02},{"x":-0.98,"y":3.34},{"x":-0.99,"y":3.66},
{"x":-0.86,"y":1.2},{"x":-0.84,"y":1.52},{"x":-0.88,"y":1.84},{"x":-0.85,"y":2.16},{"x":-0.87,"y":2.48},{"x":-0.84,"y":2.8},{"x":-0.88,"y":3.12},{"x":-0.86,"y":3.44},{"x":-0.85,"y":3.76},
{"x":-0.74,"y":1.1},{"x":-0.76,"y":1.42},{"x":-0.72,"y":1.74},{"x":-0.75,"y":2.06},{"x":-0.73,"y":2.38},{"x":-0.76,"y":2.7},{"x":-0.72,"y":3.02},{"x":-0.74,"y":3.34},{"x":-0.75,"y":3.66},
{"x":-0.62,"y":1.2},{"x":-0.6,"y":1.52},{"x":-0.64,"y":1.84},{"x":-0.61,"y":2.16},{"x":-0.63,"y":2.48},{"x":-0.6,"y":2.8},{"x":-0.64,"y":3.12},{"x":-0.62,"y":3.44},
{"x":-0.5,"y":1.3},{"x":-0.52,"y":1.62},{"x":-0.48,"y":1.94},{"x":-0.51,"y":2.26},{"x":-0.49,"y":2.58},{"x":-0.52,"y":2.9},{"x":-0.48,"y":3.22},{"x":-0.5,"y":3.54},
{"x":-0.38,"y":1.4},{"x":-0.36,"y":1.72},{"x":-0.4,"y":2.04},{"x":-0.37,"y":2.36},{"x":-0.39,"y":2.68},{"x":-0.36,"y":3.0},{"x":-0.4,"y":3.32},
{"x":-0.26,"y":1.6},{"x":-0.28,"y":1.95},{"x":-0.24,"y":2.3},{"x":-0.27,"y":2.65},{"x":-0.25,"y":3.0},
{"x":-2.36,"y":1.4},{"x":-2.36,"y":1.75},{"x":-2.36,"y":2.1},{"x":-2.36,"y":2.45},{"x":-2.36,"y":2.8},{"x":-2.36,"y":3.15},
{"x":-2.24,"y":1.31},{"x":-2.24,"y":1.63},{"x":-2.24,"y":1.95},{"x":-2.24,"y":2.27},{"x":-2.24,"y":2.59},{"x":-2.24,"y":2.91},{"x":-2.24,"y":3.23},{"x":-2.24,"y":3.55},
{"x":-2.12,"y":1.31},{"x":-2.12,"y":1.63},{"x":-2.12,"y":1.95},{"x":-2.12,"y":2.27},{"x":-2.12,"y":2.59},{"x":-2.12,"y":2.91},{"x":-2.12,"y":3.23},{"x":-2.12,"y":3.55},
{"x":-2.0,"y":1.31},{"x":-2.0,"y":1.63},{"x":-2.0,"y":1.95},{"x":-2.0,"y":2.27},{"x":-2.0,"y":2.59},{"x":-2.0,"y":2.91},{"x":-2.0,"y":3.23},{"x":-2.0,"y":3.55},
{"x":-1.88,"y":1.31},{"x":-1.88,"y":1.63},{"x":-1.88,"y":1.95},{"x":-1.88,"y":2.27},{"x":-1.88,"y":2.59},{"x":-1.88,"y":2.91},{"x":-1.88,"y":3.23},{"x":-1.88,"y":3.55},
{"x":-1.76,"y":1.31},{"x":-1.76,"y":1.63},{"x":-1.76,"y":1.95},{"x":-1.76,"y":2.27},{"x":-1.76,"y":2.59},{"x":-1.76,"y":2.91},{"x":-1.76,"y":3.23},{"x":-1.76,"y":3.55},
{"x":-1.64,"y":1.31},{"x":-1.64,"y":1.63},{"x":-1.64,"y":1.95},{"x":-1.64,"y":2.27},{"x":-1.64,"y":2.59},{"x":-1.64,"y":2.91},{"x":-1.64,"y":3.23},{"x":-1.64,"y":3.55},
{"x":-1.52,"y":1.31},{"x":-1.52,"y":1.63},{"x":-1.52,"y":1.95},{"x":-1.52,"y":2.27},{"x":-1.52,"y":2.59},{"x":-1.52,"y":2.91},{"x":-1.52,"y":3.23},{"x":-1.52,"y":3.55},
{"x":-1.4,"y":1.31},{"x":-1.4,"y":1.63},{"x":-1.4,"y":1.95},{"x":-1.4,"y":2.27},{"x":-1.4,"y":2.59},{"x":-1.4,"y":2.91},{"x":-1.4,"y":3.23},{"x":-1.4,"y":3.55},
{"x":-1.28,"y":1.31},{"x":-1.28,"y":1.63},{"x":-1.28,"y":1.95},{"x":-1.28,"y":2.27},{"x":-1.28,"y":2.59},{"x":-1.28,"y":2.91},{"x":-1.28,"y":3.23},{"x":-1.28,"y":3.55},
{"x":-1.16,"y":1.31},{"x":-1.16,"y":1.63},{"x":-1.16,"y":1.95},{"x":-1.16,"y":2.27},{"x":-1.16,"y":2.59},{"x":-1.16,"y":2.91},{"x":-1.16,"y":3.23},{"x":-1.16,"y":3.55},
{"x":-1.04,"y":1.31},{"x":-1.04,"y":1.63},{"x":-1.04,"y":1.95},{"x":-1.04,"y":2.27},{"x":-1.04,"y":2.59},{"x":-1.04,"y":2.91},{"x":-1.04,"y":3.23},{"x":-1.04,"y":3.55},
{"x":-0.92,"y":1.31},{"x":-0.92,"y":1.63},{"x":-0.92,"y":1.95},{"x":-0.92,"y":2.27},{"x":-0.92,"y":2.59},{"x":-0.92,"y":2.91},{"x":-0.92,"y":3.23},{"x":-0.92,"y":3.55},
{"x":-0.8,"y":1.31},{"x":-0.8,"y":1.63},{"x":-0.8,"y":1.95},{"x":-0.8,"y":2.27},{"x":-0.8,"y":2.59},{"x":-0.8,"y":2.91},{"x":-0.8,"y":3.23},{"x":-0.8,"y":3.55},
{"x":-0.68,"y":1.31},{"x":-0.68,"y":1.63},{"x":-0.68,"y":1.95},{"x":-0.68,"y":2.27},{"x":-0.68,"y":2.59},{"x":-0.68,"y":2.91},{"x":-0.68,"y":3.23},{"x":-0.68,"y":3.55},
{"x":-0.56,"y":1.31},{"x":-0.56,"y":1.63},{"x":-0.56,"y":1.95},{"x":-0.56,"y":2.27},{"x":-0.56,"y":2.59},{"x":-0.56,"y":2.91},{"x":-0.56,"y":3.23},
{"x":-0.44,"y":1.5},{"x":-0.44,"y":1.85},{"x":-0.44,"y":2.2},{"x":-0.44,"y":2.5},{"x":-0.44,"y":2.85},{"x":-0.44,"y":3.2},
{"x":-0.32,"y":1.55},{"x":-0.32,"y":1.9},{"x":-0.32,"y":2.2},{"x":-0.32,"y":2.5},{"x":-0.32,"y":2.85},{"x":-0.32,"y":3.15}
],
"d_pts":[
{"x":-4.55,"y":-4.82},{"x":-4.39,"y":-4.42},{"x":-4.30,"y":-4.74},{"x":-4.11,"y":-4.52},{"x":-3.98,"y":-4.80},{"x":-3.95,"y":-4.10},{"x":-3.86,"y":-4.12},{"x":-3.62,"y":-4.54},{"x":-3.54,"y":-3.84},{"x":-3.53,"y":-4.45},{"x":-3.50,"y":-4.42},{"x":-3.46,"y":-4.02},{"x":-3.40,"y":-4.26},{"x":-3.30,"y":-3.70},{"x":-3.26,"y":-5.16},{"x":-3.26,"y":-4.12},{"x":-3.21,"y":-3.79},{"x":-3.09,"y":-5.43},{"x":-3.05,"y":-3.64},{"x":-3.06,"y":-3.96},{"x":-3.00,"y":-5.68},{"x":-2.97,"y":-3.45},{"x":-2.94,"y":-3.51},{"x":-2.93,"y":-3.85},{"x":-2.88,"y":-4.59},{"x":-2.88,"y":-4.94},{"x":-2.85,"y":-3.71},{"x":-2.76,"y":-3.18},{"x":-2.74,"y":-4.77},{"x":-2.72,"y":-3.80},{"x":-2.68,"y":-4.60},{"x":-2.67,"y":-3.20},{"x":-2.65,"y":-4.16},{"x":-2.64,"y":-3.96},{"x":-2.61,"y":-3.81},{"x":-2.59,"y":-4.46},{"x":-2.58,"y":-4.12},{"x":-2.57,"y":-4.42},{"x":-2.52,"y":-5.00},{"x":-2.50,"y":-3.86},{"x":-2.47,"y":-2.97},{"x":-2.43,"y":-4.22},{"x":-2.42,"y":-2.84},{"x":-2.37,"y":-4.87},{"x":-2.34,"y":-2.72},{"x":-2.34,"y":-3.63},{"x":-2.31,"y":-3.81},{"x":-2.28,"y":-3.91},{"x":-2.25,"y":-3.99},{"x":-2.21,"y":-4.54},{"x":-2.21,"y":-3.63},{"x":-2.16,"y":-5.29},{"x":-2.14,"y":-5.20},{"x":-2.16,"y":-3.86},{"x":-2.06,"y":-4.17},{"x":-2.03,"y":-3.84},{"x":-1.94,"y":-4.48},{"x":-1.92,"y":-3.91},{"x":-1.91,"y":-3.47},{"x":-1.85,"y":-3.99},{"x":-1.81,"y":-3.57},{"x":-1.76,"y":-4.09},{"x":-1.76,"y":-4.02},{"x":-1.60,"y":-3.56},{"x":-1.54,"y":-3.91},{"x":-1.46,"y":-4.18},{"x":-1.48,"y":-3.99},{"x":-1.43,"y":-3.71},{"x":-1.39,"y":-3.76},{"x":-1.36,"y":-3.56},{"x":-1.17,"y":-3.63},{"x":-1.16,"y":-3.41},{"x":-1.00,"y":-3.61},{"x":-0.93,"y":-3.61},{"x":-0.91,"y":-3.20},{"x":-0.85,"y":-3.41},{"x":-0.80,"y":-3.04},{"x":-0.64,"y":-2.87},{"x":-0.54,"y":-3.30},{"x":-0.19,"y":-3.96},{"x":0.22,"y":-3.04},{"x":0.07,"y":-2.69},{"x":0.05,"y":-2.45},{"x":0.09,"y":-2.27},{"x":0.30,"y":-2.34},{"x":0.30,"y":-2.15},{"x":0.25,"y":-0.84},{"x":0.02,"y":-1.08},{"x":0.04,"y":-1.27},{"x":0.13,"y":-1.23},{"x":0.05,"y":-1.42},{"x":0.13,"y":-1.60},{"x":0.18,"y":-1.46},{"x":0.45,"y":-1.27},{"x":0.47,"y":-1.42},{"x":0.54,"y":-1.04},{"x":0.59,"y":-1.08},{"x":0.51,"y":-1.17},{"x":0.50,"y":-1.73},{"x":0.48,"y":-2.01},{"x":0.62,"y":-2.24},{"x":0.69,"y":-1.64},{"x":0.80,"y":-1.40},{"x":0.94,"y":-1.37},{"x":0.63,"y":-1.40},{"x":1.08,"y":-1.94},{"x":1.15,"y":-1.35},{"x":1.17,"y":-1.11},{"x":1.23,"y":-0.80},{"x":0.35,"y":-1.96},{"x":0.33,"y":-1.78},{"x":0.36,"y":-1.68},{"x":0.26,"y":-1.55},{"x":0.17,"y":-1.88},{"x":0.32,"y":-2.16},{"x":-0.07,"y":-2.08},{"x":-0.13,"y":-2.26},{"x":-0.09,"y":-2.31},
{"x":-0.2,"y":-1.5},{"x":-0.1,"y":-1.55},{"x":0.0,"y":-1.6},{"x":0.1,"y":-1.8},{"x":0.2,"y":-2.0},{"x":0.15,"y":-2.2},{"x":0.05,"y":-1.95},{"x":0.25,"y":-1.7},{"x":0.4,"y":-1.55},{"x":0.55,"y":-1.6},{"x":0.38,"y":-1.35},{"x":-0.3,"y":-1.45},{"x":-0.45,"y":-1.5},{"x":-0.6,"y":-1.55},{"x":-0.75,"y":-1.65},{"x":-0.9,"y":-1.7},{"x":-1.05,"y":-1.85},{"x":-1.2,"y":-1.95},{"x":-1.35,"y":-2.05},{"x":-1.5,"y":-2.15},{"x":-1.65,"y":-2.25},{"x":-1.8,"y":-2.35},{"x":-1.95,"y":-2.45},{"x":-2.1,"y":-2.6},{"x":-2.25,"y":-2.75},{"x":-0.3,"y":-2.5},{"x":-0.4,"y":-2.65},{"x":-0.5,"y":-2.75},{"x":-0.65,"y":-2.7},{"x":-0.75,"y":-2.85},{"x":-1.0,"y":-3.05},{"x":-1.1,"y":-3.2},{"x":-1.25,"y":-3.3},{"x":-1.4,"y":-3.4},{"x":-1.55,"y":-3.45},{"x":-1.7,"y":-3.55},{"x":-1.85,"y":-3.7},{"x":-2.0,"y":-3.75},{"x":-2.15,"y":-3.6},{"x":-2.35,"y":-3.3},{"x":-2.5,"y":-3.5},{"x":-2.6,"y":-3.3},{"x":-2.55,"y":-3.65},{"x":-2.7,"y":-3.5},
{"x":-2.54,"y":-3.4},{"x":-2.56,"y":-3.2},{"x":-2.52,"y":-3.0},
{"x":-2.42,"y":-3.5},{"x":-2.44,"y":-3.35},{"x":-2.4,"y":-3.2},{"x":-2.43,"y":-3.05},{"x":-2.41,"y":-2.9},
{"x":-2.3,"y":-3.75},{"x":-2.28,"y":-3.63},{"x":-2.32,"y":-3.51},{"x":-2.29,"y":-3.39},{"x":-2.31,"y":-3.27},{"x":-2.28,"y":-3.15},{"x":-2.32,"y":-3.03},{"x":-2.3,"y":-2.91},
{"x":-2.18,"y":-3.68},{"x":-2.2,"y":-3.56},{"x":-2.16,"y":-3.44},{"x":-2.19,"y":-3.32},{"x":-2.17,"y":-3.2},{"x":-2.2,"y":-3.08},{"x":-2.16,"y":-2.96},{"x":-2.18,"y":-2.84},
{"x":-2.06,"y":-3.6},{"x":-2.04,"y":-3.48},{"x":-2.08,"y":-3.36},{"x":-2.05,"y":-3.24},{"x":-2.07,"y":-3.12},{"x":-2.04,"y":-3.0},{"x":-2.08,"y":-2.88},{"x":-2.06,"y":-2.76},{"x":-2.05,"y":-2.64},
{"x":-1.94,"y":-3.52},{"x":-1.96,"y":-3.4},{"x":-1.92,"y":-3.28},{"x":-1.95,"y":-3.16},{"x":-1.93,"y":-3.04},{"x":-1.96,"y":-2.92},{"x":-1.92,"y":-2.8},{"x":-1.94,"y":-2.68},{"x":-1.95,"y":-2.56},
{"x":-1.82,"y":-3.44},{"x":-1.8,"y":-3.32},{"x":-1.84,"y":-3.2},{"x":-1.81,"y":-3.08},{"x":-1.83,"y":-2.96},{"x":-1.8,"y":-2.84},{"x":-1.84,"y":-2.72},{"x":-1.82,"y":-2.6},{"x":-1.81,"y":-2.48},
{"x":-1.7,"y":-3.36},{"x":-1.72,"y":-3.24},{"x":-1.68,"y":-3.12},{"x":-1.71,"y":-3.0},{"x":-1.69,"y":-2.88},{"x":-1.72,"y":-2.76},{"x":-1.68,"y":-2.64},{"x":-1.7,"y":-2.52},{"x":-1.71,"y":-2.4},
{"x":-1.58,"y":-3.28},{"x":-1.56,"y":-3.16},{"x":-1.6,"y":-3.04},{"x":-1.57,"y":-2.92},{"x":-1.59,"y":-2.8},{"x":-1.56,"y":-2.68},{"x":-1.6,"y":-2.56},{"x":-1.58,"y":-2.44},{"x":-1.57,"y":-2.32},
{"x":-1.46,"y":-3.2},{"x":-1.48,"y":-3.08},{"x":-1.44,"y":-2.96},{"x":-1.47,"y":-2.84},{"x":-1.45,"y":-2.72},{"x":-1.48,"y":-2.6},{"x":-1.44,"y":-2.48},{"x":-1.46,"y":-2.36},{"x":-1.47,"y":-2.24},
{"x":-1.34,"y":-3.11},{"x":-1.32,"y":-2.99},{"x":-1.36,"y":-2.87},{"x":-1.33,"y":-2.75},{"x":-1.35,"y":-2.63},{"x":-1.32,"y":-2.51},{"x":-1.36,"y":-2.39},{"x":-1.34,"y":-2.27},{"x":-1.33,"y":-2.15},
{"x":-1.22,"y":-3.03},{"x":-1.24,"y":-2.91},{"x":-1.2,"y":-2.79},{"x":-1.23,"y":-2.67},{"x":-1.21,"y":-2.55},{"x":-1.24,"y":-2.43},{"x":-1.2,"y":-2.31},{"x":-1.22,"y":-2.19},{"x":-1.23,"y":-2.07},
{"x":-1.1,"y":-2.95},{"x":-1.08,"y":-2.83},{"x":-1.12,"y":-2.71},{"x":-1.09,"y":-2.59},{"x":-1.11,"y":-2.47},{"x":-1.08,"y":-2.35},{"x":-1.12,"y":-2.23},{"x":-1.1,"y":-2.11},{"x":-1.09,"y":-1.99},
{"x":-0.98,"y":-2.87},{"x":-1.0,"y":-2.75},{"x":-0.96,"y":-2.63},{"x":-0.99,"y":-2.51},{"x":-0.97,"y":-2.39},{"x":-1.0,"y":-2.27},{"x":-0.96,"y":-2.15},{"x":-0.98,"y":-2.03},{"x":-0.99,"y":-1.91},
{"x":-0.86,"y":-2.79},{"x":-0.84,"y":-2.67},{"x":-0.88,"y":-2.55},{"x":-0.85,"y":-2.43},{"x":-0.87,"y":-2.31},{"x":-0.84,"y":-2.19},{"x":-0.88,"y":-2.07},{"x":-0.86,"y":-1.95},{"x":-0.85,"y":-1.83},
{"x":-0.74,"y":-2.71},{"x":-0.76,"y":-2.59},{"x":-0.72,"y":-2.47},{"x":-0.75,"y":-2.35},{"x":-0.73,"y":-2.23},{"x":-0.76,"y":-2.11},{"x":-0.72,"y":-1.99},{"x":-0.74,"y":-1.87},{"x":-0.75,"y":-1.75},
{"x":-0.62,"y":-2.63},{"x":-0.6,"y":-2.51},{"x":-0.64,"y":-2.39},{"x":-0.61,"y":-2.27},{"x":-0.63,"y":-2.15},{"x":-0.6,"y":-2.03},{"x":-0.64,"y":-1.91},{"x":-0.62,"y":-1.79},{"x":-0.61,"y":-1.67},
{"x":-0.5,"y":-2.55},{"x":-0.52,"y":-2.43},{"x":-0.48,"y":-2.31},{"x":-0.51,"y":-2.19},{"x":-0.49,"y":-2.07},{"x":-0.52,"y":-1.95},{"x":-0.48,"y":-1.83},{"x":-0.5,"y":-1.71},{"x":-0.51,"y":-1.59},
{"x":-0.38,"y":-2.4},{"x":-0.36,"y":-2.28},{"x":-0.4,"y":-2.16},{"x":-0.37,"y":-2.04},{"x":-0.39,"y":-1.92},{"x":-0.36,"y":-1.8},{"x":-0.4,"y":-1.68},{"x":-0.38,"y":-1.56},
{"x":-0.26,"y":-2.3},{"x":-0.28,"y":-2.18},{"x":-0.24,"y":-2.06},{"x":-0.27,"y":-1.94},{"x":-0.25,"y":-1.82},{"x":-0.28,"y":-1.7},{"x":-0.24,"y":-1.58},
{"x":-0.14,"y":-2.2},{"x":-0.12,"y":-2.05},{"x":-0.16,"y":-1.9},{"x":-0.13,"y":-1.75},{"x":-0.15,"y":-1.6},
{"x":-0.02,"y":-2.1},{"x":0.0,"y":-1.95},{"x":-0.04,"y":-1.8},{"x":-0.01,"y":-1.65},
{"x":-2.0,"y":-3.72},{"x":-1.88,"y":-3.6},{"x":-1.76,"y":-3.5},{"x":-1.64,"y":-3.45},{"x":-1.52,"y":-3.35},{"x":-1.4,"y":-3.3},{"x":-1.28,"y":-3.22},{"x":-1.16,"y":-3.12},
{"x":-2.36,"y":-3.77},{"x":-2.36,"y":-3.65},{"x":-2.36,"y":-3.53},{"x":-2.36,"y":-3.41},{"x":-2.36,"y":-3.29},{"x":-2.36,"y":-3.17},{"x":-2.36,"y":-3.05},{"x":-2.36,"y":-2.93},
{"x":-2.24,"y":-3.69},{"x":-2.24,"y":-3.57},{"x":-2.24,"y":-3.45},{"x":-2.24,"y":-3.33},{"x":-2.24,"y":-3.21},{"x":-2.24,"y":-3.09},{"x":-2.24,"y":-2.97},{"x":-2.24,"y":-2.85},
{"x":-2.12,"y":-3.6},{"x":-2.12,"y":-3.48},{"x":-2.12,"y":-3.36},{"x":-2.12,"y":-3.24},{"x":-2.12,"y":-3.12},{"x":-2.12,"y":-3.0},{"x":-2.12,"y":-2.88},{"x":-2.12,"y":-2.76},
{"x":-2.0,"y":-3.52},{"x":-2.0,"y":-3.4},{"x":-2.0,"y":-3.28},{"x":-2.0,"y":-3.16},{"x":-2.0,"y":-3.04},{"x":-2.0,"y":-2.92},{"x":-2.0,"y":-2.8},{"x":-2.0,"y":-2.68},
{"x":-1.88,"y":-3.44},{"x":-1.88,"y":-3.32},{"x":-1.88,"y":-3.2},{"x":-1.88,"y":-3.08},{"x":-1.88,"y":-2.96},{"x":-1.88,"y":-2.84},{"x":-1.88,"y":-2.72},{"x":-1.88,"y":-2.6},
{"x":-1.76,"y":-3.36},{"x":-1.76,"y":-3.24},{"x":-1.76,"y":-3.12},{"x":-1.76,"y":-3.0},{"x":-1.76,"y":-2.88},{"x":-1.76,"y":-2.76},{"x":-1.76,"y":-2.64},{"x":-1.76,"y":-2.52},
{"x":-1.64,"y":-3.28},{"x":-1.64,"y":-3.16},{"x":-1.64,"y":-3.04},{"x":-1.64,"y":-2.92},{"x":-1.64,"y":-2.8},{"x":-1.64,"y":-2.68},{"x":-1.64,"y":-2.56},{"x":-1.64,"y":-2.44},
{"x":-1.52,"y":-3.2},{"x":-1.52,"y":-3.08},{"x":-1.52,"y":-2.96},{"x":-1.52,"y":-2.84},{"x":-1.52,"y":-2.72},{"x":-1.52,"y":-2.6},{"x":-1.52,"y":-2.48},{"x":-1.52,"y":-2.36},
{"x":-1.4,"y":-3.12},{"x":-1.4,"y":-3.0},{"x":-1.4,"y":-2.88},{"x":-1.4,"y":-2.76},{"x":-1.4,"y":-2.64},{"x":-1.4,"y":-2.52},{"x":-1.4,"y":-2.4},{"x":-1.4,"y":-2.28},
{"x":-1.28,"y":-3.03},{"x":-1.28,"y":-2.91},{"x":-1.28,"y":-2.79},{"x":-1.28,"y":-2.67},{"x":-1.28,"y":-2.55},{"x":-1.28,"y":-2.43},{"x":-1.28,"y":-2.31},{"x":-1.28,"y":-2.19},
{"x":-1.16,"y":-2.95},{"x":-1.16,"y":-2.83},{"x":-1.16,"y":-2.71},{"x":-1.16,"y":-2.59},{"x":-1.16,"y":-2.47},{"x":-1.16,"y":-2.35},{"x":-1.16,"y":-2.23},{"x":-1.16,"y":-2.11},
{"x":-1.04,"y":-2.87},{"x":-1.04,"y":-2.75},{"x":-1.04,"y":-2.63},{"x":-1.04,"y":-2.51},{"x":-1.04,"y":-2.39},{"x":-1.04,"y":-2.27},{"x":-1.04,"y":-2.15},{"x":-1.04,"y":-2.03},
{"x":-0.92,"y":-2.79},{"x":-0.92,"y":-2.67},{"x":-0.92,"y":-2.55},{"x":-0.92,"y":-2.43},{"x":-0.92,"y":-2.31},{"x":-0.92,"y":-2.19},{"x":-0.92,"y":-2.07},{"x":-0.92,"y":-1.95},
{"x":-0.8,"y":-2.71},{"x":-0.8,"y":-2.59},{"x":-0.8,"y":-2.47},{"x":-0.8,"y":-2.35},{"x":-0.8,"y":-2.23},{"x":-0.8,"y":-2.11},{"x":-0.8,"y":-1.99},{"x":-0.8,"y":-1.87},
{"x":-0.68,"y":-2.63},{"x":-0.68,"y":-2.51},{"x":-0.68,"y":-2.39},{"x":-0.68,"y":-2.27},{"x":-0.68,"y":-2.15},{"x":-0.68,"y":-2.03},{"x":-0.68,"y":-1.91},{"x":-0.68,"y":-1.79},
{"x":-0.56,"y":-2.55},{"x":-0.56,"y":-2.43},{"x":-0.56,"y":-2.31},{"x":-0.56,"y":-2.19},{"x":-0.56,"y":-2.07},{"x":-0.56,"y":-1.95},{"x":-0.56,"y":-1.83},{"x":-0.56,"y":-1.71},
{"x":-0.44,"y":-2.47},{"x":-0.44,"y":-2.35},{"x":-0.44,"y":-2.23},{"x":-0.44,"y":-2.11},{"x":-0.44,"y":-1.99},{"x":-0.44,"y":-1.87},{"x":-0.44,"y":-1.75},{"x":-0.44,"y":-1.63},
{"x":-0.32,"y":-2.35},{"x":-0.32,"y":-2.23},{"x":-0.32,"y":-2.11},{"x":-0.32,"y":-1.99},{"x":-0.32,"y":-1.87},{"x":-0.32,"y":-1.75},{"x":-0.32,"y":-1.63},
{"x":-0.2,"y":-2.25},{"x":-0.2,"y":-2.12},{"x":-0.2,"y":-1.99},{"x":-0.2,"y":-1.86},{"x":-0.2,"y":-1.73},{"x":-0.2,"y":-1.6},
{"x":-0.08,"y":-2.15},{"x":-0.08,"y":-2.0},{"x":-0.08,"y":-1.85},{"x":-0.08,"y":-1.7}
]
},
"bounds":"flush",
"columns":2,
"spacing":{"row":188,"column":80},
"concat":[
{"width":525.4,"height":359.7,"title":"(a) Land Size vs. Farm Productivity",
"layer":[
{"data":{"name":"a_pts"},"mark":{"type":"circle","size":66,"color":"#add8e6","opacity":1},
"encoding":{"x":{"field":"x","type":"quantitative","scale":{"domain":[-6.158,2.151],"nice":false,"zero":false},"axis":{"values":[-6,-4,-2,0,2],"title":"Farm productivity (in logs)","labelExpr":"toString(datum.value)"}},
"y":{"field":"y","type":"quantitative","scale":{"domain":[-15.43,0.4],"nice":false,"zero":false},"axis":{"values":[-15,-10,-5,0],"title":"Land Size (Acres per Hour, in logs)","labelExpr":"toString(datum.value)"}}}},
{"data":{"values":[{"x":-4.55,"y":-6.26},{"x":1.24,"y":-5.18}]},"mark":{"type":"line","color":"#3c5b76","strokeWidth":2},"encoding":{"x":{"field":"x","type":"quantitative"},"y":{"field":"y","type":"quantitative"}}},
{"data":{"values":[{"x":-4.55,"y":-14.08},{"x":1.24,"y":-1.57}]},"mark":{"type":"line","color":"#ff0000","strokeWidth":3.2,"strokeDash":[9,4]},"encoding":{"x":{"field":"x","type":"quantitative"},"y":{"field":"y","type":"quantitative"}}}
]},
{"width":525.4,"height":359.7,"title":"(b) MPL vs. Farm Productivity",
"layer":[
{"data":{"name":"b_pts"},"mark":{"type":"circle","size":66,"color":"#add8e6","opacity":1},
"encoding":{"x":{"field":"x","type":"quantitative","scale":{"domain":[-6.158,2.151],"nice":false,"zero":false},"axis":{"values":[-6,-4,-2,0,2],"title":"Farm productivity (in logs)","labelExpr":"toString(datum.value)"}},
"y":{"field":"y","type":"quantitative","scale":{"domain":[0.265,2.59],"nice":false,"zero":false},"axis":{"values":[0.5,1,1.5,2,2.5],"title":"Marginal Product of Land (in logs)","labelExpr":"datum.value == 0.5 ? '.5' : toString(datum.value)"}}}},
{"data":{"values":[{"x":-4.55,"y":0.506},{"x":1.23,"y":2.16}]},"mark":{"type":"line","color":"#3c5b76","strokeWidth":2},"encoding":{"x":{"field":"x","type":"quantitative"},"y":{"field":"y","type":"quantitative"}}},
{"data":{"values":[{"x":-4.55,"y":1.724},{"x":1.23,"y":1.724}]},"mark":{"type":"line","color":"#ff0000","strokeWidth":3.2,"strokeDash":[9,4]},"encoding":{"x":{"field":"x","type":"quantitative"},"y":{"field":"y","type":"quantitative"}}}
]},
{"width":525.4,"height":360,"title":"(c) Capital vs. Farm Productivity",
"layer":[
{"data":{"name":"c_pts"},"mark":{"type":"circle","size":66,"color":"#add8e6","opacity":1},
"encoding":{"x":{"field":"x","type":"quantitative","scale":{"domain":[-6.158,2.151],"nice":false,"zero":false},"axis":{"values":[-6,-4,-2,0,2],"title":"Farm productivity (in logs)","labelExpr":"toString(datum.value)"}},
"y":{"field":"y","type":"quantitative","scale":{"domain":[-5.56,10.41],"nice":false,"zero":false},"axis":{"values":[-5,0,5,10],"title":"Capital (Acres per Hour, in logs)","labelExpr":"toString(datum.value)"}}}},
{"data":{"values":[{"x":-4.55,"y":2.67},{"x":1.23,"y":2.79}]},"mark":{"type":"line","color":"#3c5b76","strokeWidth":2},"encoding":{"x":{"field":"x","type":"quantitative"},"y":{"field":"y","type":"quantitative"}}},
{"data":{"values":[{"x":-4.55,"y":-5.11},{"x":1.23,"y":7.42}]},"mark":{"type":"line","color":"#ff0000","strokeWidth":3.2,"strokeDash":[9,4]},"encoding":{"x":{"field":"x","type":"quantitative"},"y":{"field":"y","type":"quantitative"}}}
]},
{"width":525.4,"height":360,"title":"(d) MPK vs. Farm Productivity",
"layer":[
{"data":{"name":"d_pts"},"mark":{"type":"circle","size":66,"color":"#add8e6","opacity":1},
"encoding":{"x":{"field":"x","type":"quantitative","scale":{"domain":[-6.158,2.151],"nice":false,"zero":false},"axis":{"values":[-6,-4,-2,0,2],"title":"Farm productivity (in logs)","labelExpr":"toString(datum.value)"}},
"y":{"field":"y","type":"quantitative","scale":{"domain":[-6.153,-0.66],"nice":false,"zero":false},"axis":{"values":[-6,-5,-4,-3,-2,-1],"title":"Marginal Product of Capital (in logs)","labelExpr":"toString(datum.value)"}}}},
{"data":{"values":[{"x":-4.55,"y":-4.93},{"x":1.23,"y":-0.99}]},"mark":{"type":"line","color":"#3c5b76","strokeWidth":2},"encoding":{"x":{"field":"x","type":"quantitative"},"y":{"field":"y","type":"quantitative"}}},
{"data":{"values":[{"x":-4.55,"y":-2.546},{"x":1.23,"y":-2.546}]},"mark":{"type":"line","color":"#ff0000","strokeWidth":3.2,"strokeDash":[9,4]},"encoding":{"x":{"field":"x","type":"quantitative"},"y":{"field":"y","type":"quantitative"}}}
]}
]
}
